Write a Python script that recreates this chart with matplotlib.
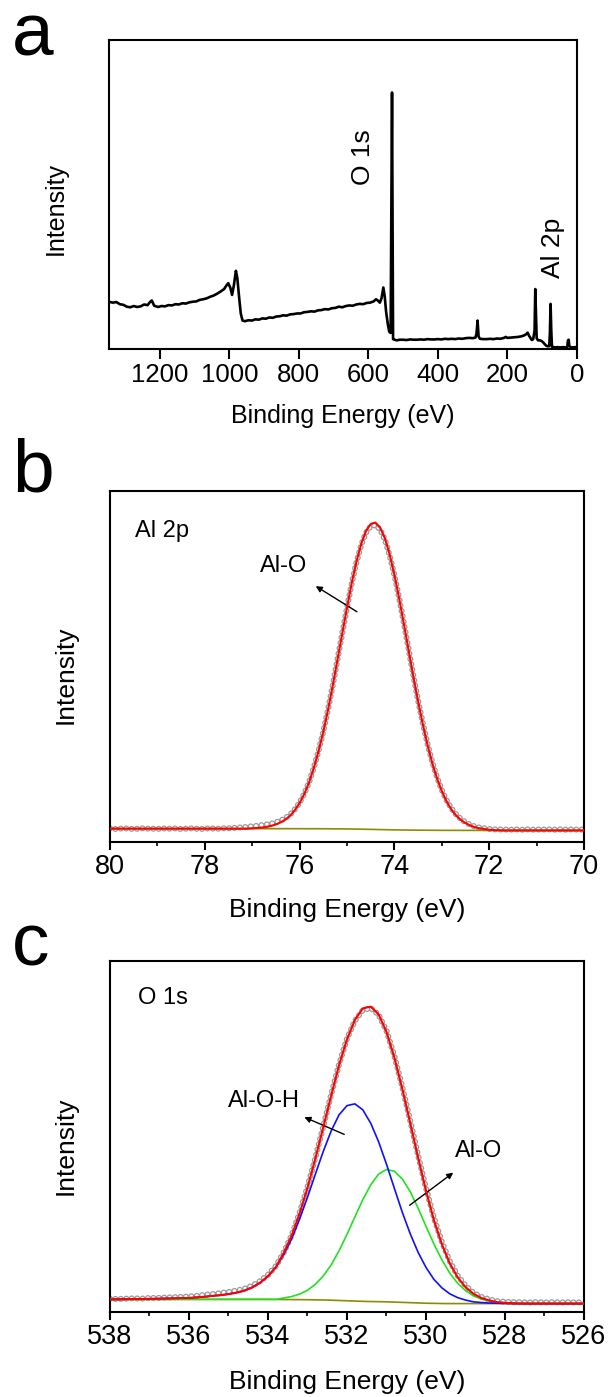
import numpy as np
import matplotlib
matplotlib.use("Agg")
import matplotlib.pyplot as plt

plt.rcParams['font.family'] = ['Liberation Sans', 'DejaVu Sans']
plt.rcParams['lines.scale_dashes'] = False

# ---- panel a : survey spectrum (intensity in % of axis height)
survey_be = [1346, 1335, 1325, 1315, 1305, 1295, 1285, 1275, 1265, 1255, 1245, 1235,
             1228, 1223, 1216, 1205, 1195, 1185, 1175, 1165, 1155, 1145, 1135, 1125,
             1115, 1105, 1095, 1085, 1075, 1065, 1055, 1045, 1035, 1025, 1015, 1008,
             1003, 997, 992, 987, 981, 977, 972, 967, 962, 955, 945, 935, 925, 915,
             905, 895, 885, 875, 865, 855, 845, 835, 825, 815, 805, 795, 785, 775,
             765, 755, 745, 735, 725, 715, 705, 695, 685, 675, 665, 655, 645, 635,
             625, 615, 605, 595, 585, 578, 572, 567, 562, 557, 553, 549, 544, 540,
             536, 532, 529, 525, 518, 510, 500, 490, 480, 470, 460, 450, 440, 430,
             420, 410, 400, 390, 380, 370, 360, 350, 340, 330, 320, 310, 300, 292,
             289, 286, 283, 279, 270, 260, 250, 240, 230, 220, 210, 205, 200, 190,
             180, 170, 160, 152, 146, 142, 138, 134, 130, 126, 122, 120, 118, 116,
             112, 106, 101, 97, 93, 89, 85, 80, 78, 76, 74, 72, 68, 62, 55, 48, 40,
             33, 28, 26, 24, 22, 18, 12, 6, 1]
survey_int = [15.3, 15.0, 15.2, 14.5, 14.3, 13.7, 13.5, 13.9, 13.6, 13.8, 14.4, 14.2,
              15.2, 15.7, 14.0, 13.6, 13.9, 13.8, 14.2, 14.1, 14.5, 14.4, 14.8, 14.7,
              15.1, 15.3, 15.4, 15.9, 16.1, 16.4, 16.9, 17.3, 17.9, 18.6, 19.4, 20.6,
              21.3, 19.8, 17.5, 20.5, 25.3, 23.0, 17.0, 11.5, 9.2, 9.0, 9.3, 9.2, 9.6, 9.5,
              9.9, 9.8, 10.2, 10.1, 10.5, 10.6, 10.9, 10.8, 11.2, 11.3, 11.5, 11.5, 11.9, 12.0,
              12.2, 12.1, 12.5, 12.6, 12.9, 12.8, 13.2, 13.3, 13.7, 13.5, 13.9, 14.1, 14.0, 14.4,
              14.6, 14.5, 14.9, 15.0, 15.4, 16.1, 15.6, 15.0, 16.5, 19.9, 17.0, 12.0, 8.0, 5.6,
              5.2, 83.0, 3.2, 3.0, 2.8, 3.0, 3.0, 2.9, 3.1, 3.0, 3.0, 3.1, 3.0, 3.2,
              3.1, 3.1, 3.2, 3.1, 3.3, 3.2, 3.3, 3.2, 3.4, 3.3, 3.5, 3.6, 3.5, 3.7,
              5.0, 9.2, 4.0, 3.3, 3.2, 3.2, 3.3, 3.2, 3.4, 3.3, 3.6, 3.9, 3.6, 3.7,
              3.8, 3.9, 4.1, 4.4, 4.8, 5.3, 4.3, 3.6, 2.9, 3.2, 6.0, 19.4, 12.0, 3.5,
              2.8, 2.8, 2.5, 2.1, 1.6, 1.1, 0.9, 0.9, 5.0, 14.6, 6.0, 0.7, 0.6, 0.5, 0.6, 0.5, 0.6,
              0.5, 0.7, 2.8, 3.0, 0.9, 0.6, 0.5, 0.6, 0.6]

# ---- panel b : Al 2p high resolution
be_b = np.linspace(80, 70, 101)
data_b = [3.9, 3.7, 3.8, 3.9, 3.8, 3.7, 3.8, 3.9, 3.8, 3.8,
          3.7, 3.9, 3.8, 3.8, 3.9, 3.7, 3.8, 3.9, 3.8, 3.7,
          3.8, 3.9, 3.8, 3.8, 3.9, 3.9, 4.0, 4.1, 4.2, 4.3,
          4.5, 4.6, 4.8, 5.0, 5.2, 5.6, 6.1, 6.8, 7.8, 9.3,
          11.2, 13.8, 17.1, 21.2, 26.0, 31.5, 37.8, 44.7, 52.1, 59.5,
          66.8, 73.7, 79.7, 84.6, 88.1, 90.0, 90.3, 89.0, 86.1, 81.6,
          76.0, 69.5, 62.3, 54.9, 47.4, 40.3, 33.8, 27.9, 22.7, 18.4,
          14.8, 11.9, 9.6, 7.9, 6.6, 5.6, 4.9, 4.4, 4.1, 3.9,
          3.7, 3.6, 3.6, 3.5, 3.6, 3.5, 3.6, 3.5, 3.6, 3.5,
          3.6, 3.5, 3.6, 3.6, 3.5, 3.6, 3.5, 3.6, 3.5, 3.6, 3.5]
fit_b = [3.8] * 30 + [
         3.9, 4.0, 4.1, 4.3, 4.6, 5.0, 5.6, 6.4, 7.5, 9.1,
         11.1, 13.7, 17.0, 21.1, 25.9, 31.4, 37.7, 44.6, 52.0, 59.4,
         66.8, 73.8, 79.9, 84.9, 88.6, 90.6, 91.0, 89.5, 86.5, 81.9,
         76.1, 69.4, 62.1, 54.6, 47.1, 40.0, 33.5, 27.6, 22.4, 18.1,
         14.5, 11.6, 9.3, 7.6, 6.3, 5.4, 4.7, 4.2, 3.9, 3.7,
         3.5, 3.4, 3.35, 3.3, 3.3, 3.3, 3.3, 3.3, 3.3, 3.3] + [3.3] * 11
bg_b_be = [80, 76.5, 75.5, 75.0, 74.5, 74.0, 73.5, 73.0, 72.0, 70]
bg_b = [3.8, 3.8, 3.78, 3.72, 3.6, 3.45, 3.37, 3.32, 3.3, 3.3]

# ---- panel c : O 1s high resolution
be_c = np.linspace(538, 526, 61)
data_c = [3.8, 3.7, 3.8, 3.9, 3.8, 4.0, 4.0, 4.1, 4.2, 4.3, 4.4,
          4.6, 4.9, 5.1, 5.4, 5.7, 6.1, 6.6, 7.5, 8.8, 10.6,
          13.1, 17.0, 21.9, 28.3, 35.7, 44.0, 52.9, 62.0, 70.6, 77.9,
          83.0, 86.0, 86.6, 84.7, 80.1, 72.9, 64.1, 54.5, 44.6, 35.3,
          26.9, 20.0, 14.5, 10.4, 7.5, 5.5, 4.3, 3.6, 3.1, 2.9,
          2.8, 2.8, 2.7, 2.8, 2.7, 2.8, 2.7, 2.8, 2.7, 2.8]
fit_c = [3.6, 3.6, 3.65, 3.7, 3.7, 3.75, 3.8, 3.85, 3.9, 3.95, 4.0,
         4.2, 4.35, 4.6, 4.8, 5.1, 5.5, 6.1, 7.0, 8.35, 10.2,
         12.8, 16.9, 21.8, 28.1, 35.4, 43.8, 52.7, 61.7, 70.4, 77.7,
         83.2, 86.5, 87.0, 84.8, 79.8, 72.5, 63.6, 53.9, 44.0, 34.6,
         26.2, 19.4, 13.9, 9.9, 7.1, 5.2, 4.0, 3.3, 2.8, 2.6,
         2.5, 2.4, 2.4, 2.4, 2.4, 2.4, 2.4, 2.4, 2.4, 2.4]
aloh_c = [3.6, 3.6, 3.65, 3.7, 3.7, 3.75, 3.8, 3.85, 3.9, 3.95, 4.0,
          4.15, 4.35, 4.6, 4.8, 5.1, 5.5, 6.1, 7.0, 8.35, 10.2,
          12.8, 16.4, 20.9, 26.5, 32.7, 39.3, 45.8, 51.6, 56.2, 58.8,
          59.3, 57.6, 53.8, 48.5, 42.1, 35.2, 28.4, 22.3, 17.0, 12.7,
          9.3, 6.9, 5.2, 4.1, 3.4, 2.9, 2.7, 2.55, 2.5, 2.45,
          2.4, 2.4, 2.4, 2.4, 2.4, 2.4, 2.4, 2.4, 2.4, 2.4]
alo_c = [3.6] * 21 + [
         3.6, 4.0, 4.4, 5.1, 6.2, 7.9, 10.3, 13.4, 17.5, 22.1,
         27.1, 32.0, 36.2, 39.3, 40.6, 40.1, 37.9, 34.3, 29.6, 24.4,
         19.4, 14.9, 11.1, 8.2, 6.1, 4.6, 3.7, 3.1, 2.8, 2.6,
         2.5, 2.4, 2.4, 2.4, 2.4, 2.4, 2.4, 2.4, 2.4, 2.4]
bg_c_be = [538, 534, 533, 532.5, 532, 531.5, 531, 530.5, 530, 529.5, 526]
bg_c = [3.6, 3.6, 3.5, 3.4, 3.2, 3.0, 2.9, 2.7, 2.5, 2.4, 2.4]

TEXT_FS = 17


def open_circles(ax, x, y):
    # hollow grey circles spaced evenly along the measured curve
    ax.plot(x, y, color='#999999', lw=4.4, ls=(0, (0.01, 3.9)), dash_capstyle='round', zorder=2)
    ax.plot(x, y, color='white', lw=2.6, ls=(0, (0.01, 3.9)), dash_capstyle='round', zorder=2)


def style_axes(ax, xlim, major, minor, ylab_x, ylab_y, xlab_y, lab_fs, tick_fs):
    ax.set_xlim(*xlim)
    ax.set_ylim(0, 100)
    ax.set_yticks([])
    ax.set_xticks(major)
    if minor is not None:
        ax.set_xticks(minor, minor=True)
    for s in ax.spines.values():
        s.set_linewidth(1.5)
    ax.tick_params(axis='x', which='major', direction='out', length=5.5, width=1.5,
                   labelsize=tick_fs, pad=3, top=False)
    ax.tick_params(axis='x', which='minor', direction='out', length=3, width=1.2, top=False)
    ax.set_xlabel('Binding Energy (eV)', fontsize=lab_fs, va='center')
    ax.xaxis.set_label_coords(0.5, xlab_y)
    ax.set_ylabel('Intensity', fontsize=lab_fs, va='center')
    ax.yaxis.set_label_coords(ylab_x, ylab_y)


fig = plt.figure(figsize=(6.11, 13.97), dpi=100)
W, H = 611.0, 1397.0

# panel a
ax1 = fig.add_axes([109 / W, 1 - 349 / H, 468 / W, 309 / H])
ax1.plot(survey_be, survey_int, color='black', lw=1.9)
style_axes(ax1, (1346, 0), [1200, 1000, 800, 600, 400, 200, 0], None,
           -0.113, 0.456, -0.217, 18, 18.5)
ax1.tick_params(axis='x', which='major', length=7)
ax1.text(615, 62, 'O 1s', rotation=90, fontsize=19, ha='center', va='center')
ax1.text(70, 32.6, 'Al 2p', rotation=90, fontsize=19, ha='center', va='center')

# panel b
ax2 = fig.add_axes([110 / W, 1 - 842 / H, 474 / W, 351 / H])
open_circles(ax2, be_b, data_b)
ax2.plot(bg_b_be, bg_b, color='#8c8c00', lw=1.2, zorder=3)
ax2.plot(be_b, fit_b, color='red', lw=1.5, zorder=4)
style_axes(ax2, (80, 70), [80, 78, 76, 74, 72, 70], [79, 77, 75, 73, 71],
           -0.093, 0.476, -0.195, 19, 19.5)
ax2.text(79.47, 88.5, 'Al 2p', fontsize=TEXT_FS, ha='left', va='center')
ax2.text(76.34, 78.5, 'Al-O', fontsize=TEXT_FS, ha='center', va='center')
ax2.annotate('', xy=(75.66, 72.9), xytext=(74.79, 65.6),
             arrowprops=dict(arrowstyle='-|>', color='black', lw=1.0, mutation_scale=9,
                             shrinkA=0, shrinkB=0))

# panel c
ax3 = fig.add_axes([110 / W, 1 - 1312 / H, 474 / W, 351 / H])
open_circles(ax3, be_c, data_c)
ax3.plot(bg_c_be, bg_c, color='#8c8c00', lw=1.2, zorder=3)
ax3.plot(be_c, alo_c, color='#22e022', lw=1.2, zorder=3)
ax3.plot(be_c, aloh_c, color='#1010ff', lw=1.2, zorder=3)
ax3.plot(be_c, fit_c, color='red', lw=1.5, zorder=4)
style_axes(ax3, (538, 526), [538, 536, 534, 532, 530, 528, 526],
           [537, 535, 533, 531, 529, 527], -0.093, 0.473, -0.199, 19, 19.5)
ax3.text(537.28, 89.6, 'O 1s', fontsize=TEXT_FS, ha='left', va='center')
ax3.text(534.1, 60.1, 'Al-O-H', fontsize=TEXT_FS, ha='center', va='center')
ax3.text(528.67, 45.9, 'Al-O', fontsize=TEXT_FS, ha='center', va='center')
ax3.annotate('', xy=(533.08, 55.5), xytext=(532.07, 50.6),
             arrowprops=dict(arrowstyle='-|>', color='black', lw=1.0, mutation_scale=9,
                             shrinkA=0, shrinkB=0))
ax3.annotate('', xy=(529.31, 39.7), xytext=(530.415, 30.4),
             arrowprops=dict(arrowstyle='-|>', color='black', lw=1.0, mutation_scale=9,
                             shrinkA=0, shrinkB=0))

# panel letters
fig.text(12 / W, 1 - 55 / H, 'a', fontsize=54, ha='left', va='baseline')
fig.text(12 / W, 1 - 491 / H, 'b', fontsize=54, ha='left', va='baseline')
fig.text(12 / W, 1 - 965 / H, 'c', fontsize=54, ha='left', va='baseline')

fig.savefig('out.png', dpi=100)
